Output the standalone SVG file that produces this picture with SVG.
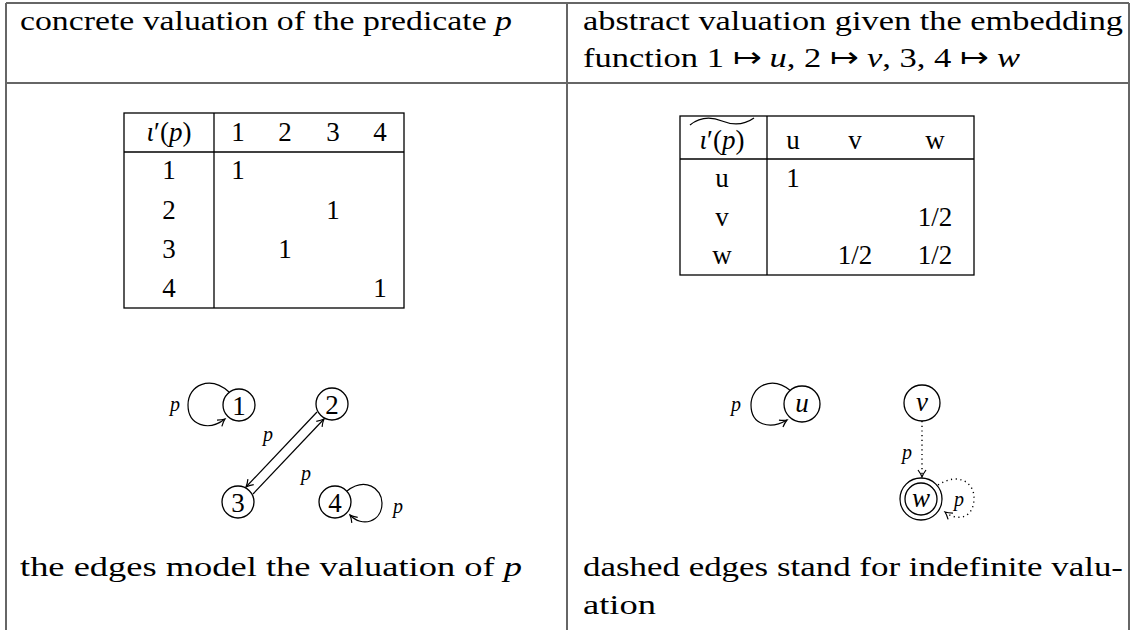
<svg xmlns="http://www.w3.org/2000/svg" width="1135" height="630" viewBox="0 0 1135 630">
<style>
.t{font-family:"Liberation Serif","Times New Roman",serif;font-size:28px;fill:#000}
.tc{font-family:"Liberation Serif","Times New Roman",serif;font-size:27px;fill:#000;text-anchor:middle}
.it{font-style:italic}
.lab{font-family:"Liberation Serif","Times New Roman",serif;font-size:20px;font-style:italic;fill:#000;text-anchor:middle}
.grid{stroke:#666;stroke-width:2;fill:none}
.tab{stroke:#000;stroke-width:1.3;fill:none}
.node{fill:#fff;stroke:#000;stroke-width:1.3}
.edge{fill:none;stroke:#000;stroke-width:1.2}
.dot{fill:none;stroke:#000;stroke-width:1.4;stroke-dasharray:1.2 3.5}
</style>
<defs>
<marker id="arr" viewBox="-8 -5 10 10" refX="0" refY="0" markerWidth="10" markerHeight="10" markerUnits="userSpaceOnUse" orient="auto">
<path d="M-7,-4 Q-3,-1 0,0 Q-3,1 -7,4" fill="none" stroke="#000" stroke-width="1.2"/>
</marker>
</defs>
<g id="outer-table">
<line class="grid" x1="6" y1="3" x2="1129" y2="3"/>
<line class="grid" x1="6" y1="83" x2="1129" y2="83"/>
<line class="grid" x1="6" y1="3" x2="6" y2="630"/>
<line class="grid" x1="567" y1="3" x2="567" y2="630"/>
<line class="grid" x1="1129" y1="3" x2="1129" y2="630"/>
</g>
<g id="headers">
<text class="t" x="20" y="30" textLength="492" lengthAdjust="spacingAndGlyphs">concrete valuation of the predicate <tspan class="it">p</tspan></text>
<text class="t" x="583" y="30" textLength="540" lengthAdjust="spacingAndGlyphs">abstract valuation given the embedding</text>
<text class="t" x="583" y="67" textLength="437" lengthAdjust="spacingAndGlyphs">function 1 ↦ <tspan class="it">u</tspan>, 2 ↦ <tspan class="it">v</tspan>, 3, 4 ↦ <tspan class="it">w</tspan></text>
</g>
<g id="footers">
<text class="t" x="20" y="576" textLength="502" lengthAdjust="spacingAndGlyphs">the edges model the valuation of <tspan class="it">p</tspan></text>
<text class="t" x="583" y="576" textLength="540" lengthAdjust="spacingAndGlyphs">dashed edges stand for indefinite valu-</text>
<text class="t" x="583" y="614" textLength="73" lengthAdjust="spacingAndGlyphs">ation</text>
</g>
<g id="concrete-table">
<rect class="tab" x="124" y="113" width="280" height="195"/>
<line class="tab" x1="124" y1="152" x2="404" y2="152"/>
<line class="tab" x1="214" y1="113" x2="214" y2="308"/>
<text class="tc" x="169" y="141"><tspan class="it">ι</tspan>′(<tspan class="it">p</tspan>)</text>
<text class="tc" x="238" y="141">1</text>
<text class="tc" x="285" y="141">2</text>
<text class="tc" x="333" y="141">3</text>
<text class="tc" x="380" y="141">4</text>
<text class="tc" x="169" y="179">1</text>
<text class="tc" x="169" y="219">2</text>
<text class="tc" x="169" y="258">3</text>
<text class="tc" x="169" y="297">4</text>
<text class="tc" x="238" y="179">1</text>
<text class="tc" x="333" y="219">1</text>
<text class="tc" x="285" y="258">1</text>
<text class="tc" x="380" y="297">1</text>
</g>
<g id="abstract-table">
<rect class="tab" x="680" y="116" width="294" height="159"/>
<line class="tab" x1="680" y1="159" x2="974" y2="159"/>
<line class="tab" x1="767" y1="116" x2="767" y2="275"/>
<path d="M690,125 C700,117 712,117 722,121 C732,125 744,125 754,118" fill="none" stroke="#000" stroke-width="1.3"/>
<text class="tc" x="722" y="149"><tspan class="it">ι</tspan>′(<tspan class="it">p</tspan>)</text>
<text class="tc" x="793" y="149">u</text>
<text class="tc" x="855" y="149">v</text>
<text class="tc" x="935" y="149">w</text>
<text class="tc" x="722" y="187">u</text>
<text class="tc" x="722" y="226">v</text>
<text class="tc" x="722" y="264">w</text>
<text class="tc" x="793" y="187">1</text>
<text class="tc" x="935" y="226">1/2</text>
<text class="tc" x="855" y="264">1/2</text>
<text class="tc" x="935" y="264">1/2</text>
</g>
<g id="connectors">
<path class="edge" d="M229,392 C210,375 188,385 188,405 C188,425 208,432 225,419" marker-end="url(#arr)"/>
<path class="edge" d="M317,412 L246,487" marker-end="url(#arr)"/>
<path class="edge" d="M253,494 L324,419" marker-end="url(#arr)"/>
<path class="edge" d="M347,491 C365,477 382,488 382,503 C382,522 362,528 350,515" marker-end="url(#arr)"/>
<path class="edge" d="M791,391 C772,375 751,386 751,405 C751,425 770,430 787,420" marker-end="url(#arr)"/>
<path class="dot" d="M922,421 L922,477" marker-end="url(#arr)"/>
<path class="dot" d="M938,485 C958,472 974,482 974,498 C974,518 958,522 945,512" marker-end="url(#arr)"/>
<text class="lab" x="175" y="411">p</text>
<text class="lab" x="268" y="441">p</text>
<text class="lab" x="306" y="480">p</text>
<text class="lab" x="398" y="513">p</text>
<text class="lab" x="736" y="411">p</text>
<text class="lab" x="907" y="459">p</text>
<text class="lab" x="959" y="506">p</text>
</g>
<g id="n1"><circle class="node" cx="239" cy="405" r="16"/><text class="tc" x="239" y="415">1</text></g>
<g id="n2"><circle class="node" cx="332" cy="404" r="16"/><text class="tc" x="332" y="414">2</text></g>
<g id="n3"><circle class="node" cx="238" cy="502" r="16"/><text class="tc" x="238" y="512">3</text></g>
<g id="n4"><circle class="node" cx="335" cy="502" r="16"/><text class="tc" x="335" y="512">4</text></g>
<g id="nu"><circle class="node" cx="802" cy="404" r="18"/><text class="tc it" x="802" y="412">u</text></g>
<g id="nv"><circle class="node" cx="922" cy="403" r="18"/><text class="tc it" x="922" y="411">v</text></g>
<g id="nw"><circle class="node" cx="921" cy="499" r="21"/><circle class="node" cx="921" cy="499" r="16"/><text class="tc it" x="921" y="507">w</text></g>
</svg>
